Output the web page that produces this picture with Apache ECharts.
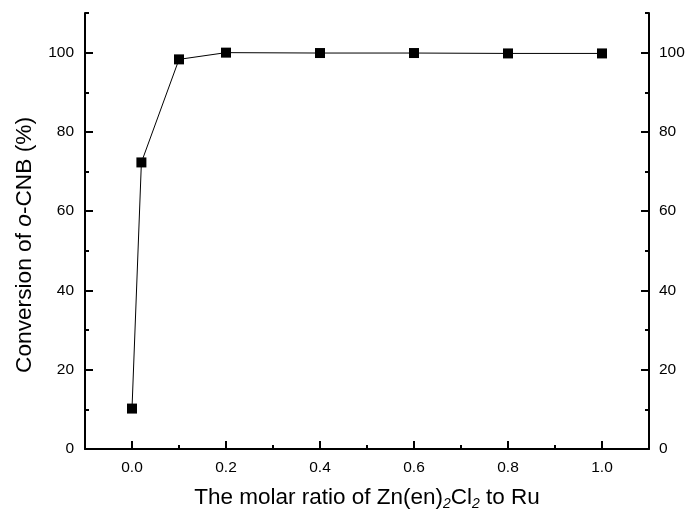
<!DOCTYPE html>
<html><head><meta charset="utf-8">
<script src="https://cdn.jsdelivr.net/npm/echarts@6/dist/echarts.min.js"></script>
<style>html,body{margin:0;padding:0;background:#fff}#c{width:688px;height:514px}</style>
</head><body><div id="c"></div>
<script>
const xValues = [0, 0.02, 0.1, 0.2, 0.4, 0.6, 0.8, 1.0];
const conversion = [10.2, 72.3, 98.3, 100, 99.9, 99.9, 99.8, 99.8];
const xMajorTicks = [0, 0.2, 0.4, 0.6, 0.8, 1.0];
const xMinorTicks = [0.1, 0.3, 0.5, 0.7, 0.9];
const yMajorTicks = [0, 20, 40, 60, 80, 100];
const yMinorTicks = [10, 30, 50, 70, 90, 110];

const font = 'Liberation Sans, Arial, sans-serif';
const chart = echarts.init(document.getElementById('c'));
const xBase = {min: -0.1, max: 1.1, gridIndex: 0, type: 'value', position: 'bottom', splitLine: {show: false}};
const yBase = {min: 0, max: 110, gridIndex: 0, type: 'value', splitLine: {show: false}};
const lineOn = {show: true, onZero: false, lineStyle: {color: '#000', width: 2}};
const lineOff = {show: false, onZero: false};
chart.setOption({
  animation: false,
  grid: {left: 85, right: 39, top: 13, bottom: 65, containLabel: false, outerBoundsMode: 'none'},
  xAxis: [
    Object.assign({}, xBase, {
      axisLine: lineOn,
      axisTick: {show: true, inside: true, length: 8, lineStyle: {color: '#000', width: 2}, customValues: xMajorTicks},
      axisLabel: {show: true, margin: 11, color: '#000', fontSize: 15.5, fontFamily: font, customValues: xMajorTicks,
        formatter: v => v.toFixed(1)},
      name: '{a|The molar ratio of Zn(en)}{s|2}{a|Cl}{s|2}{a| to Ru}',
      nameLocation: 'middle', nameGap: 36,
      nameTextStyle: {rich: {a: {fontSize: 22.5, fontFamily: font, color: '#000'}, s: {fontSize: 14, fontFamily: font, fontStyle: 'italic', color: '#000', padding: [12, 0, 0, 0]}}}
    }),
    Object.assign({}, xBase, {
      axisLine: lineOff,
      axisTick: {show: true, inside: true, length: 4, lineStyle: {color: '#000', width: 2}, customValues: xMinorTicks},
      axisLabel: {show: false}
    })
  ],
  yAxis: [
    Object.assign({}, yBase, {
      position: 'left',
      axisLine: lineOn,
      axisTick: {show: true, inside: true, length: 8, lineStyle: {color: '#000', width: 2}, customValues: yMajorTicks},
      axisLabel: {show: true, margin: 11, color: '#000', fontSize: 15.5, fontFamily: font, customValues: yMajorTicks},
      name: '{a|Conversion of }{i|o}{a|-CNB (%)}',
      nameLocation: 'middle', nameGap: 49,
      nameTextStyle: {padding: [0, 28, 0, 0], rich: {a: {fontSize: 22.7, fontFamily: font, color: '#000'}, i: {fontSize: 22.7, fontFamily: font, fontStyle: 'italic', color: '#000'}}}
    }),
    Object.assign({}, yBase, {
      position: 'left',
      axisLine: lineOff,
      axisTick: {show: true, inside: true, length: 4, lineStyle: {color: '#000', width: 2}, customValues: yMinorTicks},
      axisLabel: {show: false}
    }),
    Object.assign({}, yBase, {
      position: 'right',
      axisLine: lineOn,
      axisTick: {show: true, inside: true, length: 8, lineStyle: {color: '#000', width: 2}, customValues: yMajorTicks},
      axisLabel: {show: true, margin: 10, color: '#000', fontSize: 15.5, fontFamily: font, customValues: yMajorTicks}
    }),
    Object.assign({}, yBase, {
      position: 'right',
      axisLine: lineOff,
      axisTick: {show: true, inside: true, length: 4, lineStyle: {color: '#000', width: 2}, customValues: yMinorTicks},
      axisLabel: {show: false}
    })
  ],
  series: [{
    type: 'line',
    xAxisIndex: 0, yAxisIndex: 0,
    data: xValues.map((x, i) => [x, conversion[i]]),
    symbol: 'rect', symbolSize: 10,
    itemStyle: {color: '#000'},
    lineStyle: {color: '#000', width: 1}
  }]
});
</script></body></html>
